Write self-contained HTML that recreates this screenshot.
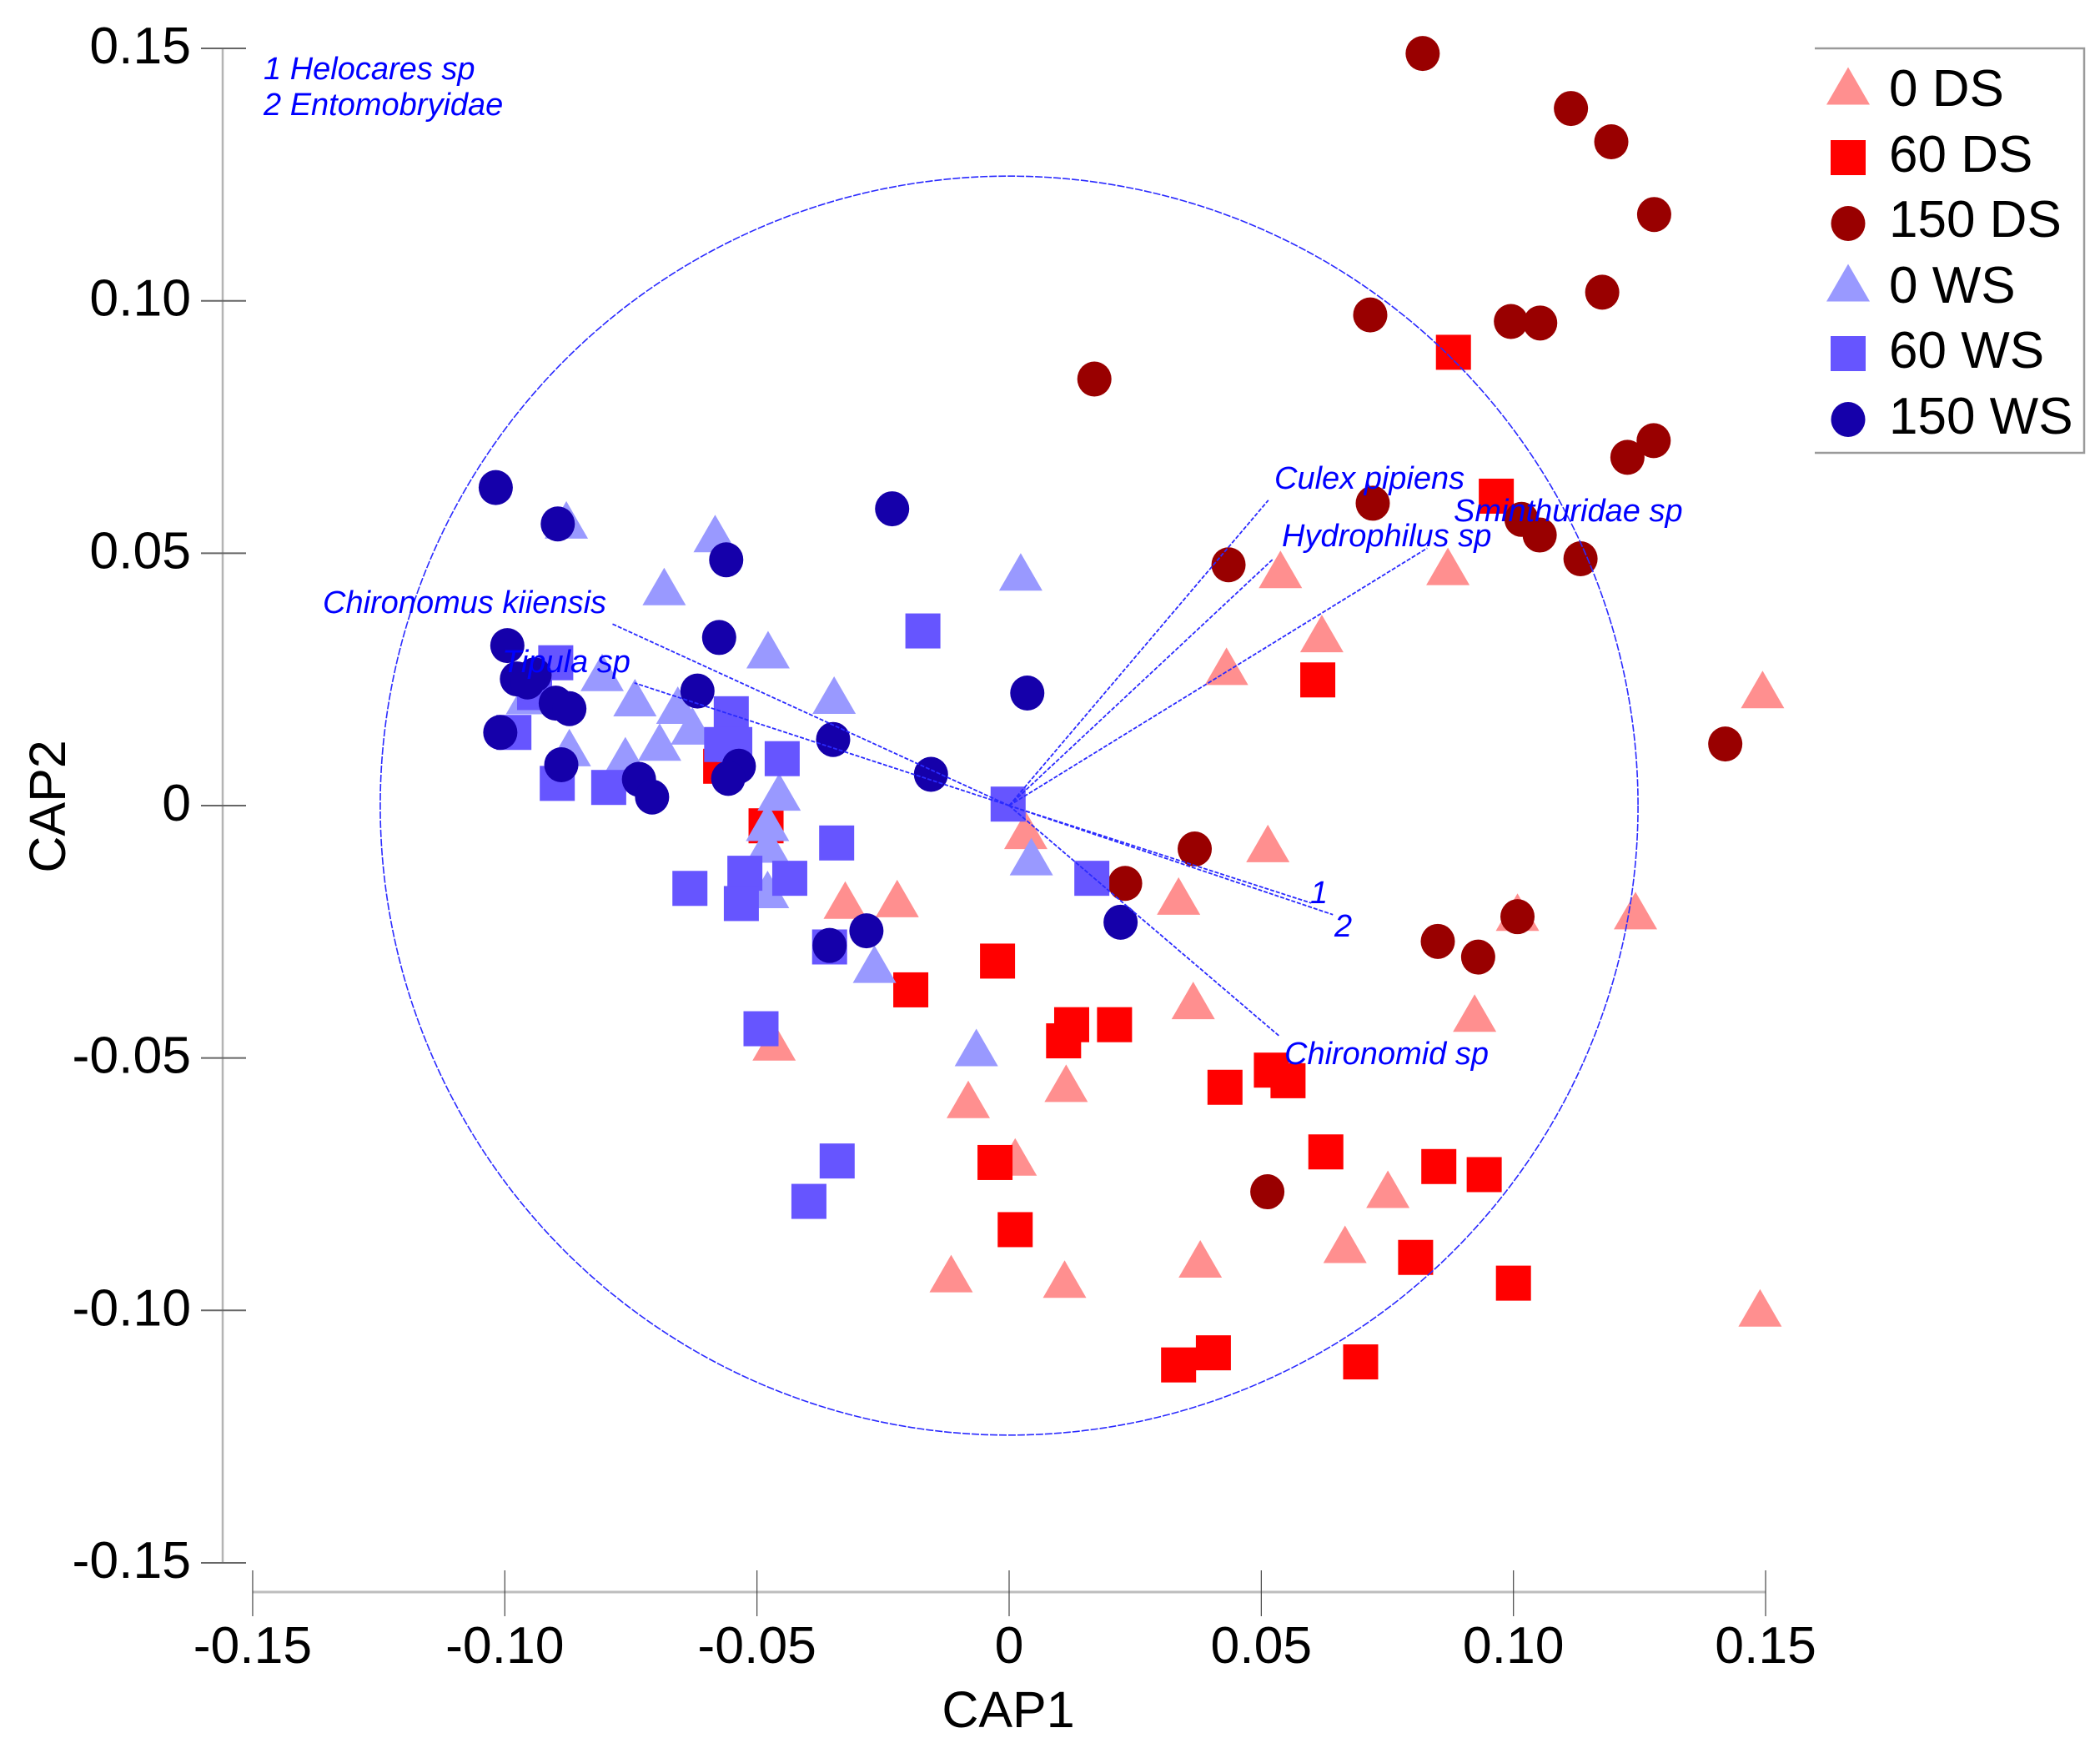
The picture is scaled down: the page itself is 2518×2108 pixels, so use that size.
<!DOCTYPE html>
<html lang="en">
<head>
<meta charset="utf-8">
<title>CAP ordination plot</title>
<style>
html,body{margin:0;padding:0;background:#fff;width:2518px;height:2108px;overflow:hidden}
svg{display:block}
text{font-family:"Liberation Sans",sans-serif}
.tick{font-size:62.5px;fill:#000}
.title{font-size:61px;fill:#000}
.leg{font-size:62px;fill:#000}
.sp{font-size:38px;font-style:italic;fill:#0000ff}
</style>
</head>
<body>
<svg id="chart" xmlns="http://www.w3.org/2000/svg" width="2518" height="2108" viewBox="0 0 2518 2108">
  <rect x="0" y="0" width="2518" height="2108" fill="#ffffff"/>
  <g id="axes"></g>
  <g id="marks"></g>
  <g id="vectors"></g>

  <text class="sp" x="316" y="95">1 Helocares sp</text>
  <text class="sp" x="316" y="138">2 Entomobryidae</text>
  <text class="sp" x="1528" y="586">Culex pipiens</text>
  <text class="sp" x="1537" y="655">Hydrophilus sp</text>
  <text class="sp" x="1743" y="625">Sminthuridae sp</text>
  <text class="sp" x="387" y="735">Chironomus kiiensis</text>
  <text class="sp" x="602" y="806">Tipula sp</text>
  <text class="sp" x="1540" y="1276">Chironomid sp</text>
  <text class="sp" x="1571" y="1083">1</text>
  <text class="sp" x="1600" y="1123">2</text>

  <text class="title" x="1209" y="2071" text-anchor="middle">CAP1</text>
  <text class="title" x="0" y="0" text-anchor="middle" transform="translate(78 967) rotate(-90)">CAP2</text>

  <g id="legend">
    <path d="M2176 58H2499V543H2176" fill="none" stroke="#9a9a9a" stroke-width="2.5"/>
  </g>
</svg>
<script>
// Chart data
const xTicks = [-0.15, -0.10, -0.05, 0, 0.05, 0.10, 0.15];
const yTicks = [0.15, 0.10, 0.05, 0, -0.05, -0.10, -0.15];
const xTickLabels = ["-0.15", "-0.10", "-0.05", "0", "0.05", "0.10", "0.15"];
const yTickLabels = ["0.15", "0.10", "0.05", "0", "-0.05", "-0.10", "-0.15"];

const ds0X = [0.1494,0.1489,0.1242,0.1008,0.0923,0.0870,0.0538,0.0620,0.0431,0.0513,0.0336,0.0033,-0.0222,-0.0325,0.0365,0.0113,-0.0081,-0.0466,0.0012,-0.0115,0.0110,0.0379,0.0666,0.0751];
const ds0Y = [0.0230,-0.0995,-0.0208,-0.0211,-0.0411,0.0474,0.0468,0.0341,0.0276,-0.0075,-0.0179,-0.0049,-0.0184,-0.0187,-0.0386,-0.0550,-0.0582,-0.0468,-0.0696,-0.0927,-0.0938,-0.0898,-0.0869,-0.0760];

const ds60X = [0.0881,0.0966,0.0612,-0.0023,-0.0195,0.0124,0.0108,0.0209,0.0428,0.0520,0.0553,0.0628,0.0852,0.0942,-0.0028,0.0012,0.0806,0.1000,0.0697,0.0405,0.0336,-0.0572,-0.0482];
const ds60Y = [0.0898,0.0613,0.0249,-0.0308,-0.0365,-0.0434,-0.0466,-0.0434,-0.0558,-0.0524,-0.0545,-0.0686,-0.0715,-0.0731,-0.0707,-0.0840,-0.0895,-0.0946,-0.1102,-0.1084,-0.1108,0.0078,-0.0040];

const ds150X = [0.0820,0.1114,0.1194,0.1279,0.1176,0.0995,0.1053,0.0716,0.0169,0.1278,0.1226,0.0721,0.1016,0.1052,0.1133,0.0435,0.1420,0.0368,0.0230,0.1008,0.0850,0.0930,0.0512];
const ds150Y = [0.1490,0.1381,0.1315,0.1171,0.1017,0.0959,0.0956,0.0972,0.0845,0.0723,0.0690,0.0599,0.0567,0.0536,0.0489,0.0477,0.0122,-0.0086,-0.0154,-0.0220,-0.0269,-0.0300,-0.0765];

const ws0X = [-0.0878,-0.0583,-0.0684,0.0023,-0.0478,-0.0347,-0.0807,-0.0742,-0.0955,-0.0872,-0.0761,-0.0693,-0.0657,-0.0628,-0.0456,-0.0479,-0.0479,-0.0479,0.0044,-0.0267,-0.0065];
const ws0Y = [0.0566,0.0539,0.0434,0.0463,0.0309,0.0219,0.0264,0.0214,0.0218,0.0115,0.0099,0.0126,0.0199,0.0158,0.0027,-0.0033,-0.0076,-0.0166,-0.0101,-0.0314,-0.0479];

const ws60X = [-0.0171,-0.0551,-0.0570,-0.0544,-0.0450,-0.0982,-0.0896,-0.0794,-0.0899,-0.0941,-0.0342,-0.0435,-0.0524,-0.0633,-0.0531,-0.0356,-0.0492,-0.0341,-0.0397,-0.0002,0.0164];
const ws60Y = [0.0346,0.0182,0.0121,0.0121,0.0093,0.0145,0.0044,0.0036,0.0283,0.0224,-0.0074,-0.0144,-0.0134,-0.0164,-0.0194,-0.0280,-0.0442,-0.0704,-0.0784,0.0003,-0.0144];

const ws150X = [-0.1018,-0.0895,-0.0232,-0.0561,-0.0575,-0.0995,0.0036,-0.0618,-0.0349,-0.0155,-0.1009,-0.0976,-0.0941,-0.0955,-0.0899,-0.0872,-0.0888,-0.0734,-0.0708,-0.0536,-0.0557,-0.0283,-0.0356,0.0221];
const ws150Y = [0.0630,0.0558,0.0588,0.0487,0.0333,0.0317,0.0223,0.0227,0.0131,0.0062,0.0145,0.0251,0.0259,0.0245,0.0203,0.0192,0.0081,0.0052,0.0017,0.0078,0.0054,-0.0248,-0.0277,-0.0231];

const vectorNames = ["culex-pipiens","hydrophilus-sp","sminthuridae-sp","chironomus-kiiensis","tipula-sp","chironomid-sp","helocares-sp","entomobryidae"];
const vectorX = [0.0514,0.0524,0.0829,-0.0787,-0.0743,0.0535,0.0599,0.0642];
const vectorY = [0.0605,0.0489,0.0510,0.0360,0.0243,-0.0456,-0.0193,-0.0216];
const circleRadius = 0.1247;

const legendLabels = ["0 DS","60 DS","150 DS","0 WS","60 WS","150 WS"];

// Axis functions
const NS = "http://www.w3.org/2000/svg";
function sx(v){ return 1210 + v * 6047; }
function sy(v){ return 966 - v * 6053; }

function make(tag, parent){
  const el = document.createElementNS(NS, tag);
  parent.appendChild(el);
  return el;
}
function line(parent, x1, y1, x2, y2, stroke, width){
  const el = make("line", parent);
  el.setAttribute("x1", x1);
  el.setAttribute("y1", y1);
  el.setAttribute("x2", x2);
  el.setAttribute("y2", y2);
  el.setAttribute("stroke", stroke);
  el.setAttribute("stroke-width", width);
  return el;
}
function marker(parent, shape, color, cx, cy){
  let el;
  if (shape === "triangle") {
    el = make("polygon", parent);
    el.setAttribute("points", (cx-26)+","+(cy+22.5)+" "+(cx+26)+","+(cy+22.5)+" "+cx+","+(cy-22.5));
  } else if (shape === "square") {
    el = make("rect", parent);
    el.setAttribute("x", cx-21);
    el.setAttribute("y", cy-21);
    el.setAttribute("width", 42);
    el.setAttribute("height", 42);
  } else {
    el = make("ellipse", parent);
    el.setAttribute("cx", cx);
    el.setAttribute("cy", cy);
    el.setAttribute("rx", 20.5);
    el.setAttribute("ry", 21);
  }
  el.setAttribute("fill", color);
  return el;
}

// Axes
const axes = document.getElementById("axes");
const yLine = line(axes, 267, sy(0.15), 267, sy(-0.15), "#b4b4b4", 2.5);


const xLine = line(axes, sx(-0.15), 1909, sx(0.15), 1909, "#bdbdbd", 3);



xTicks.forEach(function(t, i){
  const tk = line(axes, sx(t), 1883, sx(t), 1938, "#444444", 1.2);
  
  
  const lb = make("text", axes);
  
  
  lb.setAttribute("class", "tick");
  lb.setAttribute("x", sx(t));
  lb.setAttribute("y", 1994);
  lb.setAttribute("text-anchor", "middle");
  lb.textContent = xTickLabels[i];
});
yTicks.forEach(function(t, i){
  const tk = line(axes, 241, sy(t), 295, sy(t), "#666666", 2);
  
  
  const lb = make("text", axes);
  
  
  lb.setAttribute("class", "tick");
  lb.setAttribute("x", 229);
  lb.setAttribute("y", sy(t) + 18);
  lb.setAttribute("text-anchor", "end");
  lb.textContent = yTickLabels[i];
});

// Points, in legend order
const marks = document.getElementById("marks");
const seriesShapes = ["triangle","square","circle","triangle","square","circle"];
const seriesColors = ["#ff8f8f","#ff0000","#990000","#9999ff","#6655ff","#1500aa"];
const seriesX = [ds0X, ds60X, ds150X, ws0X, ws60X, ws150X];
const seriesY = [ds0Y, ds60Y, ds150Y, ws0Y, ws60Y, ws150Y];
const seriesNames = ["point-0-ds","point-60-ds","point-150-ds","point-0-ws","point-60-ws","point-150-ws"];
seriesX.forEach(function(xs, s){
  xs.forEach(function(xv, i){
    const m = marker(marks, seriesShapes[s], seriesColors[s], sx(xv), sy(seriesY[s][i]));
    
    
  });
});

// Correlation circle and vectors
const vectors = document.getElementById("vectors");
const ring = make("ellipse", vectors);


ring.setAttribute("cx", sx(0));
ring.setAttribute("cy", sy(0));
ring.setAttribute("rx", circleRadius * 6047);
ring.setAttribute("ry", circleRadius * 6053);
ring.setAttribute("fill", "none");
ring.setAttribute("stroke", "#2a2aff");
ring.setAttribute("stroke-width", 1.6);
ring.setAttribute("stroke-dasharray", "9 2");

vectorX.forEach(function(xv, i){
  const v = line(vectors, sx(0), sy(0), sx(xv), sy(vectorY[i]), "#2a2aff", 1.8);
  v.setAttribute("stroke-dasharray", "5 2");
  
  
});

// Legend
const legend = document.getElementById("legend");
const legendRowY = [103, 189, 268, 339, 424, 503];
const legendBaseY = [127, 206, 284, 363, 441, 520];
legendLabels.forEach(function(label, i){
  const m = marker(legend, seriesShapes[i], seriesColors[i], 2216, legendRowY[i]);
  
  
  const t = make("text", legend);
  
  
  t.setAttribute("class", "leg");
  t.setAttribute("x", 2265);
  t.setAttribute("y", legendBaseY[i]);
  t.textContent = label;
});
</script>
</body>
</html>
